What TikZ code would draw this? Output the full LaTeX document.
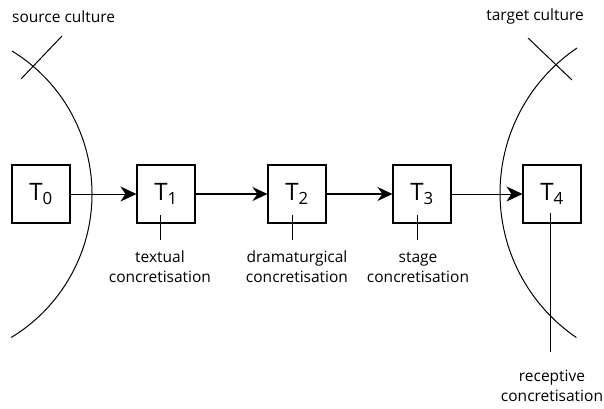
\documentclass[tikz,border=0pt]{standalone}
\usepackage{fontspec}
\setmainfont{Open Sans}
\usetikzlibrary{arrows.meta}

\newcommand{\twolines}[2]{\begin{tabular}{@{}c@{}}#1\\#2\end{tabular}}

\begin{document}
\begin{tikzpicture}[x=1pt, y=1pt,
		textbox/.style={draw, line width=1.1pt, minimum size=58pt, inner sep=0pt, font=\fontsize{24}{28}\selectfont},
		stagelabel/.style={inner sep=0pt, font=\fontsize{15.5}{20}\selectfont},
		thin arrow/.style={-{Stealth[length=16pt, width=15pt, inset=5pt]}, line width=0.9pt},
		thick arrow/.style={-{Stealth[length=15pt, width=14pt, inset=5pt]}, line width=1.6pt}]
			\useasboundingbox (0,0) rectangle (604,408);

			\node[stagelabel, anchor=west] (SC) at (12,391) {source culture};
			\node[stagelabel, anchor=east] (TC) at (584,392) {target culture};

			\node[textbox] (T0) at (41,214) {T\textsubscript{0}};
			\node[textbox] (T1) at (166,214) {T\textsubscript{1}};
			\node[textbox] (T2) at (297,214) {T\textsubscript{2}};
			\node[textbox] (T3) at (422,214) {T\textsubscript{3}};
			\node[textbox] (T4) at (552,214) {T\textsubscript{4}};

			\draw[thin arrow] (T0)--(T1);
			\draw[thick arrow] (T1)--(T2);
			\draw[thick arrow] (T2)--(T3);
			\draw[thin arrow] (T3)--(T4);

			\draw[line width=1pt] (-75.8,214) ++(58.45:167.8) arc[start angle=58.45, end angle=-58.8, radius=167.8];
			\draw[line width=1pt] (21,329)--(62,372);

			\draw[line width=1pt] (675,215) ++(124.05:175) arc[start angle=124.05, end angle=235.7, radius=175];
			\draw[line width=1pt] (528,370)--(572,328);

			\node[stagelabel] (L1) at (160,140) {\twolines{textual}{concretisation}};
			\node[stagelabel] (L2) at (297,140) {\twolines{dramaturgical}{concretisation}};
			\node[stagelabel] (L3) at (418,140) {\twolines{stage}{concretisation}};
			\node[stagelabel] (L4) at (552,21) {\twolines{receptive}{concretisation}};

			\draw[line width=1pt] ([xshift=-6pt]T1.center) ++(0,-21)--++(0,-25);
			\draw[line width=1pt] ([xshift=-5pt]T2.center) ++(0,-21)--++(0,-25);
			\draw[line width=1pt] ([xshift=-5pt]T3.center) ++(0,-21)--++(0,-25);
			\draw[line width=1pt] ([xshift=-2pt]T4.center) ++(0,-19)--++(0,-139);
		\end{tikzpicture}
\end{document}
